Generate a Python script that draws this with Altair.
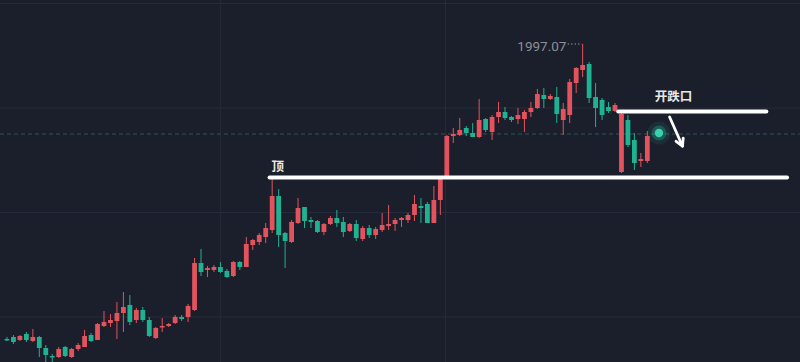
import altair as alt
import pandas as pd

# candle OHLC (index order)
opens = [1702,1704,1701,1707,1700,1704,1693,1685,1684,1694,1684,1692,1694,1706,1701,1715,1718,1720,1728,1736,
         1721,1731,1721,1703,1713.5,1715,1718,1724,1724,1731,1778,1771,1771,1774,1770,1765,1779,1774,1796,1799,
         1804,1811,1845,1808,1799,1818,1834,1821,1820,1809,1817,1823,1819,1810,1817,1802,1813,1806,1811,1815,
         1817,1821,1821,1826,1835,1837,1818,1841,1864,1905,1906,1913,1908,1904,1922,1909,1924,1929,1924,1922,
         1922,1929,1933,1946,1942,1944,1921,1926,1958,1971,1977,1944,1941,1934,1930,1869,1921,1901,1880,1880]
closes = [1700.5,1699,1705,1701,1704,1693,1686,1683.5,1692,1685,1692,1696,1705,1700,1717,1719,1721,1728,1734,1719,
          1731,1721,1705,1713,1715,1717,1724,1722,1735,1778,1769,1773,1774,1769,1764,1779,1774,1797,1801,1806,
          1813,1845,1806,1800,1819,1833,1820,1819,1809,1817,1823,1818,1809,1817,1803,1813,1806,1812,1816,1817,
          1821,1823,1826,1837,1833,1818,1841,1863,1905,1907,1911,1908,1904,1921,1911,1924,1929,1923,1921,1926,
          1929,1933,1947,1942,1945,1927,1932,1959,1973,1976,1943,1933,1926,1930,1936,1927,1896,1878,1882,1905]
highs = [1704,1706,1706,1709,1712,1705,1696,1687,1694,1695,1693,1698,1711,1708,1718,1730,1727,1739,1749,1746,
         1733,1734,1724,1714,1723,1718,1726,1726,1737,1783,1792,1775,1776,1779,1772,1780,1780,1804,1802,1808,
         1818,1863,1852,1809,1821,1843,1834,1824,1821,1818,1825,1831,1824,1818,1821,1815,1816,1814,1828,1836,
         1823,1824,1828,1846,1843,1839,1855,1863,1906,1913,1923,1915,1918,1942,1923,1926,1939,1934,1925,1933,
         1931,1939,1952,1953,1947,1954,1938,1962,1974,1997.07,1979,1958,1943,1939,1938,1929,1926,1908,1888,1910]
lows = [1700,1697,1700,1699,1699,1684,1679,1679,1683,1684,1683,1690,1694,1699,1701,1714,1714,1702,1709,1716,
        1718,1719,1704,1702,1709,1714,1717,1720,1719,1730,1765,1764,1769,1768,1763,1764,1771,1774,1791,1796,
        1798,1808,1794,1773,1798,1817,1813,1813,1808,1806,1816,1814,1804,1809,1800,1800,1803,1802,1809,1811,
        1810,1814,1818,1820,1818,1818,1818,1826,1863,1898,1905,1905,1904,1903,1909,1901,1918,1921,1919,1917,
        1909,1924,1932,1933,1941,1918,1906,1918,1948,1964,1938,1914,1921,1928,1929,1868,1894,1871,1874,1878]

# reference levels / grid
grid_prices = [2037.5, 1933, 1828.5, 1724]
grid_index = [32.98, 67.79]
last_price_line = 1907
top_level = 1863.5          # 顶
gap_level = 1929.5          # 开跌口
high_label = "1997.07"

RED = "#e2535d"
GREEN = "#1fb292"
BG = "#1b1f2b"
GRID = "#252c39"

df = pd.DataFrame({"i": list(range(len(opens))), "o": opens, "c": closes, "h": highs, "l": lows})

XS = alt.Scale(domain=[-0.3053, 121.83], nice=False, zero=False)
YS = alt.Scale(domain=[1679, 2041], nice=False, zero=False)


def X(f="i"):
    return alt.X(f"{f}:Q", scale=XS, axis=None)


def Y(f="p"):
    return alt.Y(f"{f}:Q", scale=YS, axis=None)


hgrid = alt.Chart(pd.DataFrame({"p": grid_prices})).mark_rule(color=GRID, strokeWidth=1).encode(
    y=Y("p"), x=alt.value(0), x2=alt.value(800))
vgrid = alt.Chart(pd.DataFrame({"i": grid_index})).mark_rule(color=GRID, strokeWidth=1).encode(
    x=X("i"), y=alt.value(0), y2=alt.value(362))
dash = alt.Chart(pd.DataFrame({"p": [last_price_line]})).mark_rule(
    color="#33555c", strokeWidth=1, strokeDash=[4, 3]).encode(
    y=Y("p"), x=alt.value(0), x2=alt.value(800))

color = alt.condition("datum.c >= datum.o", alt.value(RED), alt.value(GREEN))
wicks = alt.Chart(df).mark_rule(strokeWidth=1).encode(
    x=X("i"), y=Y("l"), y2="h:Q", color=color)
bodies = alt.Chart(df).mark_bar(size=4.8).encode(
    x=X("i"), y=Y("o"), y2="c:Q", color=color)

lines_df = pd.DataFrame({
    "i": [40.6, 120.6, 94.5, 117.4],
    "p": [top_level, top_level, gap_level, gap_level],
    "g": ["a", "a", "b", "b"],
})
wlines = alt.Chart(lines_df).mark_line(color="white", strokeWidth=4, strokeCap="round").encode(
    x=X("i"), y=Y("p"), detail="g:N")

arrow_df = pd.DataFrame({
    "i": [102.44, 104.43, 103.44, 104.43, 104.55, 104.43],
    "p": [1924, 1895, 1899.7, 1895, 1902.9, 1895],
    "g": ["s", "s", "h1", "h1", "h2", "h2"],
    "k": [0, 1, 0, 1, 0, 1],
})
arrow = alt.Chart(arrow_df).mark_line(color="white", strokeWidth=2.8, strokeCap="round").encode(
    x=X("i"), y=Y("p"), detail="g:N", order="k:Q")

dots = alt.Chart(pd.DataFrame({"i": [86.7, 88.9], "p": [1997.07, 1997.07]})).mark_line(
    color="#8c9099", strokeWidth=1.5, strokeDash=[1, 2.5]).encode(x=X("i"), y=Y("p"))

texts_df = pd.DataFrame({
    "i": [40.9, 100.15],
    "p": [1874, 1944],
    "t": ["顶", "开跌口"],
})
labels = alt.Chart(texts_df).mark_text(
    align="left", baseline="middle", color="#e8e8e8", fontSize=12.5,
    font="Noto Sans CJK SC", fontWeight="bold").encode(x=X("i"), y=Y("p"), text="t:N")

hl = alt.Chart(pd.DataFrame({"i": [78.9], "p": [1994], "t": [high_label]})).mark_text(
    align="left", baseline="middle", color="#8c9099", fontSize=13.5, font="Roboto").encode(
    x=X("i"), y=Y("p"), text="t:N")

glow_df = pd.DataFrame({"i": [100.8], "p": [1908]})
glow1 = alt.Chart(glow_df).mark_circle(size=520, color="#23c9a5", opacity=0.1).encode(x=X("i"), y=Y("p"))
glow2 = alt.Chart(glow_df).mark_circle(size=220, color="#23c9a5", opacity=0.28).encode(x=X("i"), y=Y("p"))
glow3 = alt.Chart(glow_df).mark_circle(size=70, color="#3be0b8", opacity=0.9).encode(x=X("i"), y=Y("p"))

chart = alt.layer(
    hgrid, vgrid, dash, wicks, bodies, wlines, arrow, dots, labels, hl, glow1, glow2, glow3
).properties(
    width=800, height=362, background=BG, padding=0,
    autosize=alt.AutoSizeParams(type="none"),
).configure_view(stroke=None)

chart.save("out.html", embed_options={"renderer": "svg", "actions": False})
